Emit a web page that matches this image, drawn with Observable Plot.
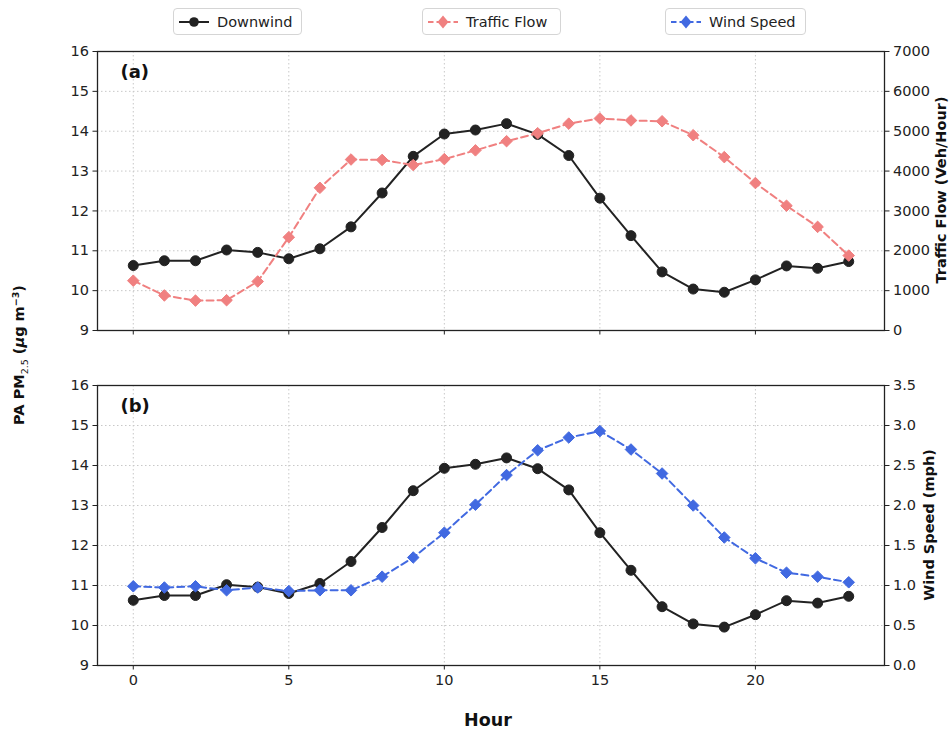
<!DOCTYPE html>
<html><head><meta charset="utf-8">
<script src="https://cdn.jsdelivr.net/npm/d3@7"></script>
<script src="https://cdn.jsdelivr.net/npm/@observablehq/plot@0.6"></script>
<style>
body{margin:0;background:#fff;font-family:"DejaVu Sans",sans-serif;}
#wrap{position:relative;width:951px;height:730px;overflow:hidden;}
.chart{position:absolute;left:0;}
.lg{position:absolute;top:8px;height:27px;border:1px solid #d5d5d5;border-radius:4px;box-sizing:border-box;display:flex;align-items:center;font-size:14.5px;color:#222;background:#fff;}
.lg svg{margin:0 8px 0 5px;}
.lab{position:absolute;font-weight:bold;color:#111;white-space:nowrap;}
</style></head><body>
<div id="wrap"></div>
<script>
const hours = [0,1,2,3,4,5,6,7,8,9,10,11,12,13,14,15,16,17,18,19,20,21,22,23];
const downwind = [10.63,10.75,10.75,11.02,10.96,10.80,11.05,11.60,12.45,13.37,13.93,14.03,14.19,13.92,13.39,12.32,11.38,10.47,10.04,9.96,10.27,10.62,10.56,10.73];
const traffic = [1250,880,750,760,1230,2340,3580,4290,4280,4150,4300,4520,4750,4950,5190,5320,5270,5250,4900,4350,3700,3130,2600,1880];
const wind = [0.99,0.975,0.99,0.94,0.975,0.93,0.94,0.94,1.11,1.35,1.66,2.01,2.38,2.69,2.85,2.93,2.70,2.40,2.00,1.60,1.34,1.16,1.11,1.04];
const xTicks = [0,5,10,15,20];
const leftTicks = [9,10,11,12,13,14,15,16];
const trafficTicks = [0,1000,2000,3000,4000,5000,6000,7000];
const windTicks = [0,0.5,1.0,1.5,2.0,2.5,3.0,3.5];

const C_DOWN = "#222222", C_TRAF = "#f08080", C_WIND = "#4169e1";
const wrap = document.getElementById("wrap");

function panel({label, rightVals, rightMax, rightTicks, rightFmt, color, top, height, mt, mb, showX}) {
  const toLeft = v => 9 + v * 7 / rightMax;
  const fromLeft = y => (y - 9) * rightMax / 7;
  const dw = hours.map((h,i)=>({h, v: downwind[i]}));
  const rs = hours.map((h,i)=>({h, v: toLeft(rightVals[i])}));
  const chart = Plot.plot({
    width: 951, height, marginLeft: 97, marginRight: 67, marginTop: mt, marginBottom: mb,
    style: {fontFamily: "DejaVu Sans", fontSize: "14.5px", color: "#222", background: "transparent"},
    x: {domain: [-1.15, 24.15]},
    y: {domain: [9, 16]},
    marks: [
      Plot.gridX(xTicks, {stroke: "#c8c8c8", strokeOpacity: 1, strokeDasharray: "1.5,2.5"}),
      Plot.gridY(leftTicks.slice(1,-1), {stroke: "#c8c8c8", strokeOpacity: 1, strokeDasharray: "1.5,2.5"}),
      Plot.axisX(xTicks, {tickSize: 4.5, tickPadding: 5, label: null, tickFormat: showX ? (d=>String(d)) : (()=>""), stroke: "#222"}),
      Plot.axisY(leftTicks, {anchor: "left", tickSize: 4.5, tickPadding: 4, label: null, stroke: "#222"}),
      Plot.axisY(rightTicks.map(toLeft), {anchor: "right", tickSize: 4.5, tickPadding: 4, label: null, stroke: "#222",
        tickFormat: d => rightFmt(fromLeft(d))}),
      Plot.line(dw, {x: "h", y: "v", stroke: C_DOWN, strokeWidth: 2}),
      Plot.dot(dw, {x: "h", y: "v", r: 5, fill: C_DOWN, stroke: C_DOWN, strokeWidth: 1}),
      Plot.line(rs, {x: "h", y: "v", stroke: color, strokeWidth: 2, strokeDasharray: "7,4"}),
      Plot.dot(rs, {x: "h", y: "v", symbol: "diamond2", r: 5.2, fill: color, stroke: color, strokeWidth: 1}),
      Plot.frame({stroke: "#222", strokeWidth: 1.3}),
      Plot.text([label], {frameAnchor: "top-left", dx: 23, dy: 14, fontWeight: "bold", fontSize: 18, fill: "#111", textAnchor: "start", lineAnchor: "top"})
    ]
  });
  chart.classList.add("chart");
  chart.style.top = top + "px";
  wrap.appendChild(chart);
}

panel({label: "(a)", rightVals: traffic, rightMax: 7000, rightTicks: trafficTicks, rightFmt: v => String(Math.round(v)),
  color: C_TRAF, top: 42, height: 308, mt: 9, mb: 20, showX: false});
panel({label: "(b)", rightVals: wind, rightMax: 3.5, rightTicks: windTicks, rightFmt: v => (Math.round(v*10)/10).toFixed(1),
  color: C_WIND, top: 350, height: 380, mt: 35, mb: 65, showX: true});

// legend
const legendItems = [
  {name: "Downwind", color: C_DOWN, sym: "circle", dash: null, left: 173, w: 129},
  {name: "Traffic Flow", color: C_TRAF, sym: "diamond", dash: "5,3", left: 422, w: 139},
  {name: "Wind Speed", color: C_WIND, sym: "diamond", dash: "5,3", left: 665, w: 141}
];
for (const it of legendItems) {
  const d = document.createElement("div");
  d.className = "lg";
  d.style.left = it.left + "px";
  d.style.width = it.w + "px";
  const mk = it.sym === "circle"
    ? `<circle cx="15" cy="8" r="4.8" fill="${it.color}"/>`
    : `<path d="M15,1.5 L20.5,8 L15,14.5 L9.5,8 Z" fill="${it.color}"/>`;
  d.innerHTML = `<svg width="30" height="16"><line x1="0" y1="8" x2="30" y2="8" stroke="${it.color}" stroke-width="2" ${it.dash ? `stroke-dasharray="5.5,3"` : ""}/>${mk}</svg><span>${it.name}</span>`;
  wrap.appendChild(d);
}

// axis titles
function addLab(html, x, y, size, rot) {
  const d = document.createElement("div");
  d.className = "lab";
  d.innerHTML = html;
  d.style.fontSize = size + "px";
  d.style.left = x + "px";
  d.style.top = y + "px";
  d.style.transform = `translate(-50%,-50%) rotate(${rot}deg)`;
  wrap.appendChild(d);
}
addLab('PA PM<sub style="font-size:9.5px;font-weight:normal">2.5</sub> (<i>μ</i>g m<sup style="font-size:9.5px">−3</sup>)', 20, 355, 14.5, -90);
addLab('Traffic Flow (Veh/Hour)', 941, 190, 14.5, -90);
addLab('Wind Speed (mph)', 929, 525, 14.5, -90);
addLab('Hour', 488, 720, 17.5, 0);
</script>
</body></html>
